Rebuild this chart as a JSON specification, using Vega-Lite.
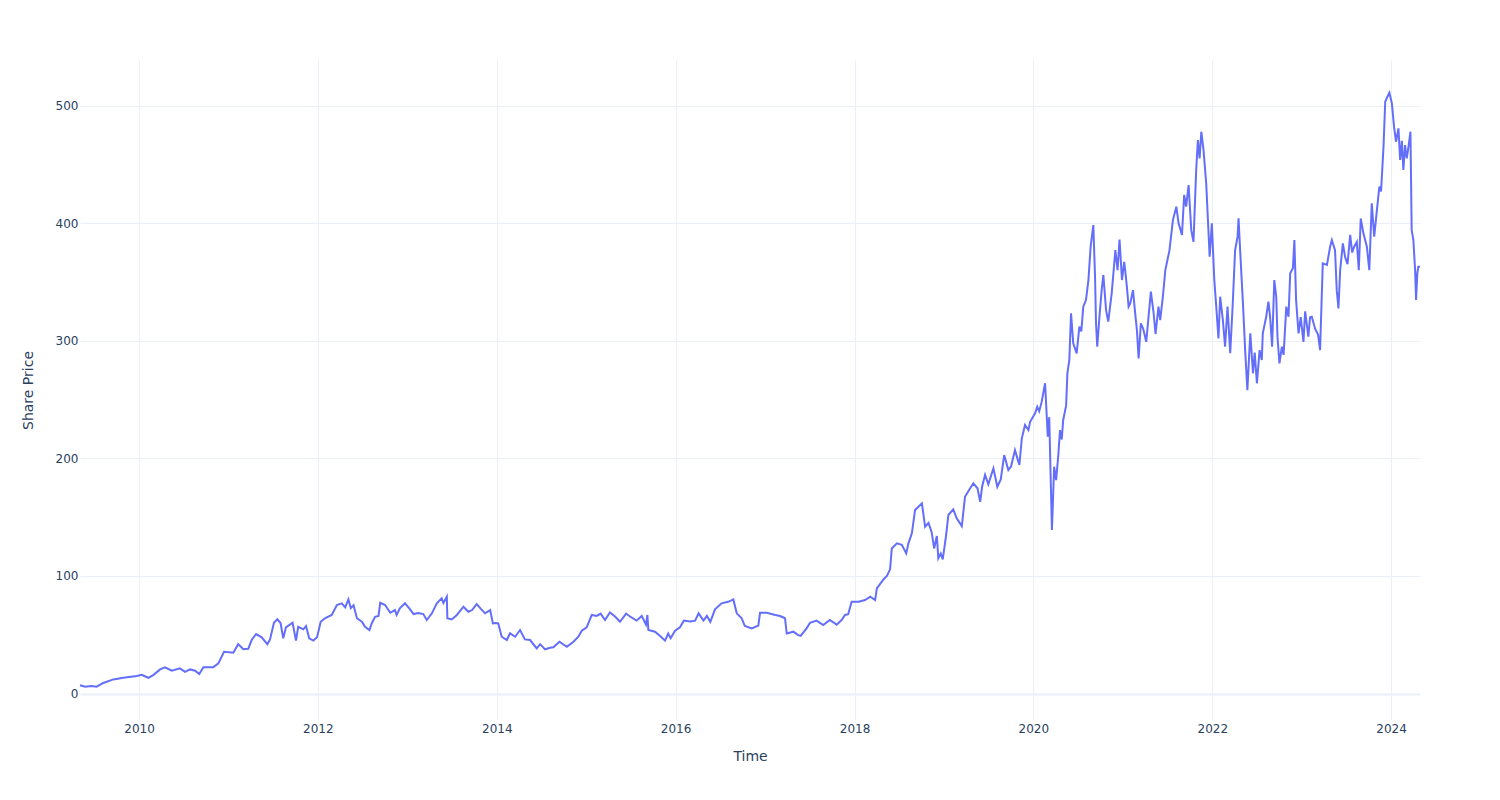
{
 "$schema": "https://vega.github.io/schema/vega-lite/v6.json",
 "width": 1340, "height": 660,
 "autosize": {"type": "none"},
 "padding": {"left": 80, "top": 60, "right": 80, "bottom": 80},
 "background": "white",
 "config": {"view": {"stroke": null}, "font": "DejaVu Sans"},
 "data": {"values": [
 {"date":"2009-05-05","price":7},{"date":"2009-05-26","price":5.8},{"date":"2009-06-20","price":6.5},{"date":"2009-07-12","price":5.8},{"date":"2009-08-08","price":9},{"date":"2009-09-18","price":12},{"date":"2009-10-29","price":13.4},{"date":"2009-12-23","price":14.9},
 {"date":"2010-01-12","price":16},{"date":"2010-02-08","price":13.4},{"date":"2010-02-28","price":15.7},{"date":"2010-03-28","price":20.5},{"date":"2010-04-17","price":22.3},{"date":"2010-05-15","price":19.4},{"date":"2010-06-17","price":21.4},{"date":"2010-07-08","price":18.5},{"date":"2010-07-28","price":20.5},{"date":"2010-08-18","price":19.4},{"date":"2010-09-04","price":16.6},{"date":"2010-09-21","price":22.3},{"date":"2010-10-31","price":22.3},{"date":"2010-11-21","price":25.7},{"date":"2010-12-14","price":35.5},
 {"date":"2011-01-21","price":34.7},{"date":"2011-02-10","price":42},{"date":"2011-03-03","price":37.6},{"date":"2011-03-23","price":38},{"date":"2011-04-06","price":45.5},{"date":"2011-04-24","price":50.6},{"date":"2011-05-17","price":47.8},{"date":"2011-06-09","price":42},{"date":"2011-06-20","price":46},{"date":"2011-07-06","price":60.2},{"date":"2011-07-20","price":63.1},{"date":"2011-08-02","price":60},{"date":"2011-08-13","price":47},{"date":"2011-08-24","price":56.3},{"date":"2011-09-20","price":60.2},{"date":"2011-10-04","price":45},{"date":"2011-10-13","price":56.8},{"date":"2011-11-03","price":54.6},{"date":"2011-11-14","price":57.4},{"date":"2011-11-27","price":47},{"date":"2011-12-14","price":45},{"date":"2011-12-29","price":47.8},
 {"date":"2012-01-13","price":61},{"date":"2012-01-30","price":64},{"date":"2012-02-27","price":66.8},{"date":"2012-03-19","price":75.3},{"date":"2012-04-08","price":76.7},{"date":"2012-04-22","price":73.3},{"date":"2012-05-05","price":80},{"date":"2012-05-15","price":72.6},{"date":"2012-05-26","price":75},{"date":"2012-06-09","price":64},{"date":"2012-06-29","price":61},{"date":"2012-07-12","price":56.8},{"date":"2012-07-30","price":54},{"date":"2012-08-09","price":60},{"date":"2012-08-22","price":65.3},{"date":"2012-09-05","price":66},{"date":"2012-09-12","price":77.2},{"date":"2012-10-02","price":75.3},{"date":"2012-10-23","price":68.7},{"date":"2012-11-11","price":71},{"date":"2012-11-18","price":66.8},{"date":"2012-12-01","price":72.4},{"date":"2012-12-22","price":76.7},
 {"date":"2013-01-12","price":71.6},{"date":"2013-01-26","price":67.6},{"date":"2013-02-14","price":68.5},{"date":"2013-03-07","price":67.6},{"date":"2013-03-21","price":62.5},{"date":"2013-04-11","price":68.2},{"date":"2013-05-01","price":76.7},{"date":"2013-05-21","price":81},{"date":"2013-05-28","price":77},{"date":"2013-06-11","price":82.3},{"date":"2013-06-13","price":64},{"date":"2013-07-01","price":63},{"date":"2013-07-22","price":66.8},{"date":"2013-08-18","price":73.8},{"date":"2013-09-07","price":69.6},{"date":"2013-09-22","price":71},{"date":"2013-10-11","price":76.1},{"date":"2013-10-28","price":72},{"date":"2013-11-14","price":68.2},{"date":"2013-12-05","price":71},{"date":"2013-12-16","price":59.7},{"date":"2013-12-29","price":60},
 {"date":"2014-01-07","price":59.7},{"date":"2014-01-21","price":48.3},{"date":"2014-02-11","price":45.5},{"date":"2014-02-24","price":51.2},{"date":"2014-03-17","price":48.3},{"date":"2014-04-06","price":54},{"date":"2014-04-26","price":46},{"date":"2014-05-17","price":45.5},{"date":"2014-06-13","price":38.4},{"date":"2014-06-27","price":42},{"date":"2014-07-17","price":37.6},{"date":"2014-08-07","price":39},{"date":"2014-08-20","price":39.3},{"date":"2014-09-14","price":44},{"date":"2014-10-14","price":39.8},{"date":"2014-11-10","price":44},{"date":"2014-11-30","price":48.3},{"date":"2014-12-14","price":53.4},
 {"date":"2015-01-03","price":56.3},{"date":"2015-01-24","price":66.8},{"date":"2015-02-13","price":66},{"date":"2015-03-01","price":68},{"date":"2015-03-19","price":62.5},{"date":"2015-04-08","price":69},{"date":"2015-04-29","price":65.5},{"date":"2015-05-19","price":61},{"date":"2015-06-13","price":68},{"date":"2015-06-29","price":65.5},{"date":"2015-07-26","price":62},{"date":"2015-08-16","price":66},{"date":"2015-09-02","price":58.6},{"date":"2015-09-08","price":66.8},{"date":"2015-09-12","price":54},{"date":"2015-10-09","price":52.6},{"date":"2015-10-30","price":49},{"date":"2015-11-19","price":45},{"date":"2015-12-02","price":51},{"date":"2015-12-12","price":47},{"date":"2015-12-30","price":53.4},
 {"date":"2016-01-19","price":56.3},{"date":"2016-02-04","price":62},{"date":"2016-03-01","price":61.2},{"date":"2016-03-21","price":62},{"date":"2016-04-04","price":68.2},{"date":"2016-04-24","price":62},{"date":"2016-05-08","price":66},{"date":"2016-05-22","price":61},{"date":"2016-06-10","price":71.6},{"date":"2016-07-07","price":76.7},{"date":"2016-08-03","price":78},{"date":"2016-08-24","price":80},{"date":"2016-09-07","price":68.2},{"date":"2016-09-27","price":64},{"date":"2016-10-10","price":57.4},{"date":"2016-11-07","price":55.4},{"date":"2016-12-04","price":57.8},{"date":"2016-12-11","price":68.7},
 {"date":"2017-01-08","price":68.7},{"date":"2017-02-11","price":66.8},{"date":"2017-03-03","price":65.9},{"date":"2017-03-23","price":64},{"date":"2017-03-30","price":51},{"date":"2017-04-26","price":52.6},{"date":"2017-05-16","price":49.7},{"date":"2017-05-26","price":49},{"date":"2017-06-19","price":55.4},{"date":"2017-07-03","price":60.2},{"date":"2017-07-30","price":62},{"date":"2017-08-26","price":58.2},{"date":"2017-09-22","price":62.5},{"date":"2017-10-20","price":58.6},{"date":"2017-11-09","price":62.5},{"date":"2017-11-23","price":66.8},{"date":"2017-12-06","price":67.4},{"date":"2017-12-20","price":78},
 {"date":"2018-01-17","price":78},{"date":"2018-02-13","price":79.5},{"date":"2018-03-06","price":82.3},{"date":"2018-03-26","price":79.5},{"date":"2018-04-02","price":89.4},{"date":"2018-04-29","price":97},{"date":"2018-05-13","price":100},{"date":"2018-05-26","price":105.6},{"date":"2018-06-02","price":123.4},{"date":"2018-06-23","price":127.7},{"date":"2018-07-13","price":126.5},{"date":"2018-07-31","price":119.2},{"date":"2018-08-09","price":127.7},{"date":"2018-08-23","price":136.2},{"date":"2018-09-05","price":156},{"date":"2018-10-03","price":161.7},{"date":"2018-10-16","price":141.8},{"date":"2018-10-30","price":145},{"date":"2018-11-12","price":137},{"date":"2018-11-22","price":123.4},{"date":"2018-12-03","price":134},{"date":"2018-12-09","price":115},{"date":"2018-12-19","price":119},{"date":"2018-12-27","price":114},
 {"date":"2019-01-10","price":134.8},{"date":"2019-01-19","price":151.8},{"date":"2019-02-08","price":156.6},{"date":"2019-02-22","price":149},{"date":"2019-03-15","price":142.4},{"date":"2019-03-28","price":167.3},{"date":"2019-04-18","price":174.5},{"date":"2019-05-01","price":178.7},{"date":"2019-05-18","price":174.5},{"date":"2019-05-29","price":163},{"date":"2019-06-06","price":176},{"date":"2019-06-18","price":186},{"date":"2019-07-01","price":178},{"date":"2019-07-22","price":191.5},{"date":"2019-08-07","price":175.8},{"date":"2019-08-21","price":182},{"date":"2019-09-04","price":202.8},{"date":"2019-09-21","price":190},{"date":"2019-10-02","price":193},{"date":"2019-10-18","price":207},{"date":"2019-11-05","price":194.3},{"date":"2019-11-15","price":217},{"date":"2019-11-28","price":228.3},{"date":"2019-12-12","price":224},{"date":"2019-12-19","price":231},
 {"date":"2020-01-08","price":238.3},{"date":"2020-01-17","price":243.9},{"date":"2020-01-25","price":240},{"date":"2020-02-04","price":248},{"date":"2020-02-18","price":263.8},{"date":"2020-02-29","price":218.4},{"date":"2020-03-06","price":235},{"date":"2020-03-13","price":173},{"date":"2020-03-17","price":139},{"date":"2020-03-26","price":192.9},{"date":"2020-04-03","price":181.5},{"date":"2020-04-12","price":202.8},{"date":"2020-04-19","price":224},{"date":"2020-04-26","price":216},{"date":"2020-05-02","price":232.6},{"date":"2020-05-14","price":245},{"date":"2020-05-19","price":272.3},{"date":"2020-05-27","price":283.6},{"date":"2020-06-03","price":323.3},{"date":"2020-06-12","price":297.8},{"date":"2020-06-26","price":289.3},{"date":"2020-07-07","price":312},{"date":"2020-07-15","price":308},{"date":"2020-07-23","price":329},{"date":"2020-08-03","price":334.6},{"date":"2020-08-13","price":351.6},{"date":"2020-08-22","price":380},{"date":"2020-09-02","price":398.4},{"date":"2020-09-09","price":354.4},{"date":"2020-09-13","price":314.8},{"date":"2020-09-18","price":295},{"date":"2020-09-27","price":320.4},{"date":"2020-10-06","price":343},{"date":"2020-10-13","price":355.9},{"date":"2020-10-24","price":326},{"date":"2020-11-02","price":316.2},{"date":"2020-11-16","price":340.3},{"date":"2020-12-01","price":377},{"date":"2020-12-10","price":360},{"date":"2020-12-18","price":386},{"date":"2020-12-28","price":351.6},
 {"date":"2021-01-06","price":367},{"date":"2021-01-10","price":360},{"date":"2021-01-17","price":346},{"date":"2021-01-24","price":329},{"date":"2021-01-31","price":332},{"date":"2021-02-11","price":343},{"date":"2021-02-20","price":323},{"date":"2021-02-27","price":309},{"date":"2021-03-06","price":285},{"date":"2021-03-15","price":314.8},{"date":"2021-03-25","price":310},{"date":"2021-04-06","price":299},{"date":"2021-04-25","price":341.7},{"date":"2021-05-06","price":324},{"date":"2021-05-14","price":305.7},{"date":"2021-05-26","price":329},{"date":"2021-06-02","price":317.6},{"date":"2021-06-13","price":337.4},{"date":"2021-06-23","price":360},{"date":"2021-07-10","price":377},{"date":"2021-07-24","price":402.6},{"date":"2021-08-07","price":414},{"date":"2021-08-16","price":400},{"date":"2021-08-30","price":390},{"date":"2021-09-08","price":424},{"date":"2021-09-16","price":414},{"date":"2021-09-26","price":432.4},{"date":"2021-10-07","price":394},{"date":"2021-10-16","price":384},{"date":"2021-10-27","price":445},{"date":"2021-11-03","price":470.7},{"date":"2021-11-10","price":455},{"date":"2021-11-17","price":477.7},{"date":"2021-11-26","price":462},{"date":"2021-12-07","price":433.8},{"date":"2021-12-14","price":402.6},{"date":"2021-12-21","price":371.4},{"date":"2021-12-30","price":399.8},
 {"date":"2022-01-09","price":351.6},{"date":"2022-01-17","price":329},{"date":"2022-01-26","price":302},{"date":"2022-02-02","price":337.4},{"date":"2022-02-13","price":317.6},{"date":"2022-02-22","price":295},{"date":"2022-03-04","price":329},{"date":"2022-03-15","price":289.3},{"date":"2022-03-25","price":330},{"date":"2022-04-04","price":377},{"date":"2022-04-14","price":388.4},{"date":"2022-04-18","price":404},{"date":"2022-04-28","price":363},{"date":"2022-05-06","price":331.8},{"date":"2022-05-15","price":292},{"date":"2022-05-24","price":258},{"date":"2022-06-05","price":306.3},{"date":"2022-06-16","price":272.3},{"date":"2022-06-23","price":290},{"date":"2022-07-02","price":263.8},{"date":"2022-07-13","price":292},{"date":"2022-07-22","price":283.6},{"date":"2022-07-26","price":306.3},{"date":"2022-08-09","price":320.4},{"date":"2022-08-18","price":333.2},{"date":"2022-08-25","price":320},{"date":"2022-09-02","price":295},{"date":"2022-09-11","price":351.6},{"date":"2022-09-19","price":337.4},{"date":"2022-09-24","price":303.4},{"date":"2022-10-02","price":280.8},{"date":"2022-10-12","price":295},{"date":"2022-10-19","price":288},{"date":"2022-10-30","price":329},{"date":"2022-11-08","price":320.4},{"date":"2022-11-15","price":357.3},{"date":"2022-11-26","price":361.6},{"date":"2022-12-02","price":385.6},{"date":"2022-12-09","price":334.6},{"date":"2022-12-19","price":306.3},{"date":"2022-12-28","price":320},
 {"date":"2023-01-08","price":299},{"date":"2023-01-15","price":325},{"date":"2023-01-28","price":303.4},{"date":"2023-02-04","price":320},{"date":"2023-02-11","price":320.4},{"date":"2023-02-25","price":310},{"date":"2023-03-09","price":305},{"date":"2023-03-17","price":292},{"date":"2023-03-28","price":365.8},{"date":"2023-04-14","price":364.4},{"date":"2023-04-27","price":380},{"date":"2023-05-04","price":385.6},{"date":"2023-05-17","price":377},{"date":"2023-05-24","price":343},{"date":"2023-05-31","price":327.5},{"date":"2023-06-07","price":360},{"date":"2023-06-18","price":382.8},{"date":"2023-06-27","price":371.4},{"date":"2023-07-07","price":365},{"date":"2023-07-18","price":390},{"date":"2023-07-26","price":375},{"date":"2023-08-03","price":380},{"date":"2023-08-14","price":384},{"date":"2023-08-22","price":360},{"date":"2023-08-30","price":404},{"date":"2023-09-10","price":391.3},{"date":"2023-09-24","price":380},{"date":"2023-10-04","price":360},{"date":"2023-10-14","price":416.8},{"date":"2023-10-24","price":388.4},{"date":"2023-11-04","price":411},{"date":"2023-11-14","price":431},{"date":"2023-11-21","price":427},{"date":"2023-12-01","price":465},{"date":"2023-12-08","price":503.2},{"date":"2023-12-17","price":507.5},{"date":"2023-12-25","price":510.9},
 {"date":"2024-01-04","price":501.9},{"date":"2024-01-13","price":482},{"date":"2024-01-21","price":469.2},{"date":"2024-01-31","price":480.6},{"date":"2024-02-07","price":453.7},{"date":"2024-02-14","price":470},{"date":"2024-02-20","price":445.2},{"date":"2024-02-27","price":466.4},{"date":"2024-03-05","price":455},{"date":"2024-03-12","price":465},{"date":"2024-03-20","price":477.7},{"date":"2024-03-25","price":394},{"date":"2024-04-01","price":385.6},{"date":"2024-04-08","price":360},{"date":"2024-04-12","price":334.6},{"date":"2024-04-17","price":357.3},{"date":"2024-04-21","price":363},{"date":"2024-04-28","price":363}
 ]},
 "mark": {"type": "line", "color": "#636efa", "strokeWidth": 2},
 "encoding": {
  "x": {"field": "date", "type": "temporal", "title": "Time",
   "scale": {"nice": false},
   "axis": {"values": [{"year":2010},{"year":2012},{"year":2014},{"year":2016},{"year":2018},{"year":2020},{"year":2022},{"year":2024}],
    "format": "%Y", "grid": true, "gridColor": "#EBF0F8", "gridWidth": 1, "domain": false, "ticks": false,
    "labelColor": "#2a3f5f", "labelFontSize": 12, "labelPadding": 3, "labelFont": "DejaVu Sans",
    "titleColor": "#2a3f5f", "titleFontSize": 14, "titleFontWeight": "normal", "titlePadding": 15, "titleFont": "DejaVu Sans"}},
  "y": {"field": "price", "type": "quantitative", "title": "Share Price",
   "scale": {"domain": [-22.5, 538.7], "nice": false, "zero": false},
   "axis": {"values": [0,100,200,300,400,500], "grid": true, "gridColor": "#EBF0F8",
    "gridWidth": {"condition": {"test": "datum.value === 0", "value": 2}, "value": 1},
    "domain": false, "ticks": false,
    "labelColor": "#2a3f5f", "labelFontSize": 12, "labelPadding": 2, "labelFont": "DejaVu Sans",
    "titleColor": "#2a3f5f", "titleFontSize": 14, "titleFontWeight": "normal", "titlePadding": 20, "titleFont": "DejaVu Sans"}}
 }
}
